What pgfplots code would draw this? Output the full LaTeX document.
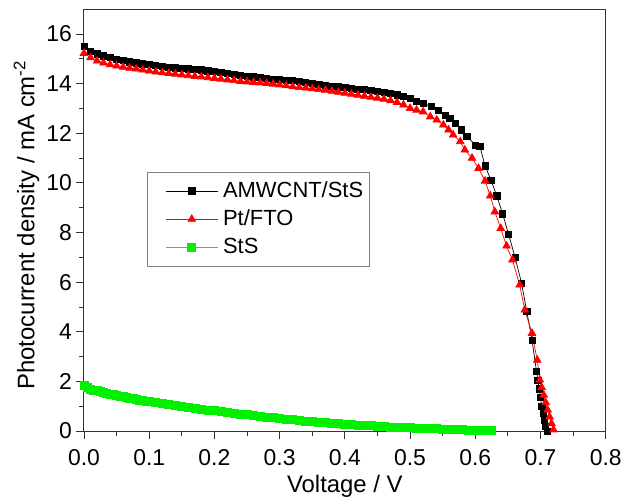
\documentclass[border=0pt]{standalone}
\usepackage{fontspec}
\setmainfont{Liberation Sans}
\usepackage{pgfplots}
\pgfplotsset{compat=1.18}
\definecolor{mygreen}{RGB}{0,240,0}
\definecolor{myred}{RGB}{255,0,0}
\begin{document}
\begin{tikzpicture}
\useasboundingbox (-84bp,-67bp) rectangle (550bp,431bp);
\begin{axis}[
  at={(0,0)}, anchor=south west,
  scale only axis, width=521.7bp, height=421.7bp,
  xmin=0, xmax=0.8, ymin=0, ymax=17,
  xtick={0,0.1,0.2,0.3,0.4,0.5,0.6,0.7,0.8},
  ytick={0,2,4,6,8,10,12,14,16},
  minor x tick num=1, minor y tick num=1,
  xtick pos=bottom, ytick pos=left,
  tick align=outside,
  major tick length=8bp, minor tick length=5bp,
  axis line style={black!80, line width=1bp},
  tick style={black!80, line width=0.9bp},
  /pgf/number format/assume math mode=true,
  tick label style={font=\fontsize{23}{27}\selectfont, inner sep=0bp},
  xticklabel style={anchor=north, yshift=-10bp, /pgf/number format/.cd, fixed, fixed zerofill, precision=1},
  yticklabel style={anchor=east, xshift=-4bp, /pgf/number format/.cd, fixed, precision=0},
  xlabel={Voltage / V},
  ylabel={Photocurrent density / mA cm\textsuperscript{-2}},
  label style={font=\fontsize{24}{28}\selectfont},
  xlabel style={at={(axis description cs:0.5,-0.130)}, anchor=center},
  ylabel style={at={(axis description cs:-0.110,0.488)}, anchor=center, rotate=0},
  legend style={at={(rel axis cs:0.1208,0.6142)}, anchor=north west, draw=gray, line width=0.8bp,
    font=\fontsize{22}{26}\selectfont, inner xsep=6bp, inner ysep=7bp, row sep=5.3bp, column sep=5bp,
    nodes={inner sep=0bp, text height=18bp, text depth=5bp}},
  legend cell align=left,
  legend image code/.code={\path (0bp,0bp); \draw[mark repeat=2,mark phase=2,#1] plot coordinates {(12bp,0bp) (38bp,0bp) (64bp,0bp)};},
]
\addplot[black, line width=0.7bp, mark=square*, mark size=3.1bp, mark options={solid, fill=black}] coordinates {
(0.000,15.50) (0.010,15.32) (0.020,15.20) (0.030,15.12) (0.040,15.05) (0.050,14.99)
(0.060,14.94) (0.070,14.88) (0.080,14.84) (0.090,14.80) (0.100,14.77) (0.110,14.73)
(0.120,14.70) (0.130,14.67) (0.140,14.64) (0.150,14.62) (0.160,14.60) (0.170,14.58)
(0.180,14.56) (0.190,14.52) (0.200,14.49) (0.210,14.46) (0.220,14.42) (0.230,14.38)
(0.240,14.35) (0.250,14.31) (0.260,14.28) (0.270,14.25) (0.280,14.22) (0.290,14.19)
(0.300,14.17) (0.310,14.15) (0.320,14.12) (0.330,14.10) (0.340,14.07) (0.350,14.03)
(0.360,13.98) (0.370,13.94) (0.380,13.90) (0.390,13.87) (0.400,13.84) (0.410,13.81)
(0.420,13.78) (0.430,13.76) (0.440,13.73) (0.450,13.69) (0.460,13.65) (0.470,13.60)
(0.480,13.55) (0.490,13.48) (0.500,13.41) (0.510,13.28) (0.520,13.21) (0.533,13.08)
(0.543,12.94) (0.554,12.74) (0.561,12.60) (0.569,12.40) (0.579,12.14) (0.587,11.87)
(0.600,11.53) (0.607,11.49) (0.615,10.69) (0.624,10.12) (0.633,9.48) (0.642,8.75)
(0.651,7.94) (0.661,7.00) (0.671,5.96) (0.679,4.81) (0.687,3.67) (0.694,2.39)
(0.696,2.05) (0.698,1.70) (0.700,1.35) (0.702,1.00) (0.704,0.70) (0.706,0.42)
(0.708,0.18) (0.710,0.00)
};
\addlegendentry{AMWCNT/StS}
\addplot[myred, line width=0.7bp, mark=triangle*, mark size=4.4bp, mark options={solid, fill=myred}] coordinates {
(0.000,15.23) (0.010,15.05) (0.020,14.92) (0.030,14.84) (0.040,14.77) (0.050,14.72)
(0.060,14.67) (0.070,14.63) (0.080,14.60) (0.090,14.56) (0.100,14.52) (0.110,14.48)
(0.120,14.45) (0.130,14.42) (0.140,14.39) (0.150,14.36) (0.160,14.33) (0.170,14.30)
(0.180,14.28) (0.190,14.25) (0.200,14.22) (0.210,14.19) (0.220,14.16) (0.230,14.13)
(0.240,14.10) (0.250,14.08) (0.260,14.06) (0.270,14.04) (0.280,14.02) (0.290,13.99)
(0.300,13.96) (0.310,13.92) (0.320,13.88) (0.330,13.85) (0.340,13.83) (0.350,13.80)
(0.360,13.77) (0.370,13.74) (0.380,13.70) (0.390,13.66) (0.400,13.62) (0.410,13.58)
(0.420,13.54) (0.430,13.50) (0.440,13.46) (0.450,13.42) (0.460,13.38) (0.470,13.32)
(0.480,13.25) (0.490,13.15) (0.500,13.01) (0.510,12.94) (0.520,12.87) (0.531,12.67)
(0.541,12.54) (0.551,12.34) (0.559,12.14) (0.566,11.94) (0.577,11.67) (0.584,11.33)
(0.595,11.00) (0.605,10.59) (0.615,10.08) (0.623,9.48) (0.630,8.84) (0.639,8.17)
(0.648,7.46) (0.657,6.90) (0.668,5.89) (0.676,4.88) (0.687,3.94) (0.695,2.86)
(0.699,2.06) (0.702,1.75) (0.705,1.45) (0.708,1.15) (0.711,0.85) (0.714,0.57)
(0.717,0.30) (0.720,0.05)
};
\addlegendentry{Pt/FTO}
\addplot[mygreen, line width=0.7bp, mark=square*, mark size=4bp, mark options={solid, fill=mygreen}] coordinates {
(0.000,1.85) (0.005,1.74) (0.010,1.68) (0.015,1.65) (0.020,1.62) (0.025,1.58) (0.030,1.55)
(0.035,1.52) (0.040,1.49) (0.045,1.46) (0.050,1.43) (0.055,1.40) (0.060,1.38) (0.065,1.35)
(0.070,1.33) (0.075,1.30) (0.080,1.28) (0.085,1.25) (0.090,1.23) (0.095,1.20) (0.100,1.18)
(0.110,1.14) (0.120,1.10) (0.130,1.06) (0.140,1.02) (0.150,0.99) (0.160,0.95)
(0.170,0.92) (0.180,0.88) (0.190,0.85) (0.200,0.82) (0.210,0.79) (0.220,0.75)
(0.230,0.72) (0.240,0.69) (0.250,0.66) (0.260,0.63) (0.270,0.60) (0.280,0.57)
(0.290,0.54) (0.300,0.51) (0.310,0.48) (0.320,0.45) (0.330,0.43) (0.340,0.40)
(0.350,0.38) (0.360,0.36) (0.370,0.34) (0.380,0.32) (0.390,0.30) (0.400,0.28)
(0.410,0.26) (0.420,0.24) (0.430,0.22) (0.440,0.21) (0.450,0.19) (0.460,0.18)
(0.470,0.16) (0.480,0.15) (0.490,0.14) (0.500,0.13) (0.510,0.12) (0.520,0.11)
(0.530,0.10) (0.540,0.09) (0.550,0.08) (0.560,0.07) (0.570,0.06) (0.580,0.05)
(0.590,0.04) (0.600,0.04) (0.610,0.03) (0.620,0.02) (0.625,0.02)
};
\addlegendentry{StS}
\end{axis}
\end{tikzpicture}
\end{document}
